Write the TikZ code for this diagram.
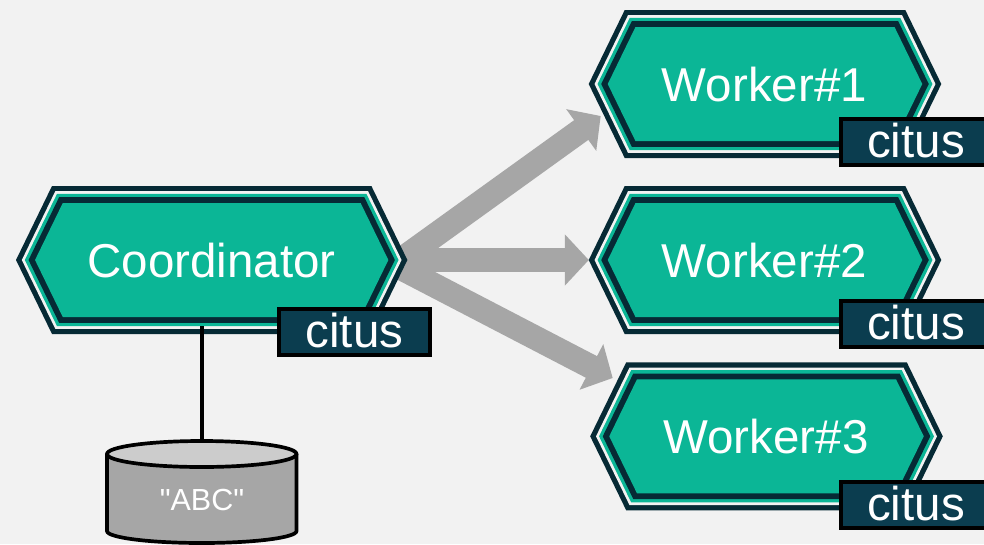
\documentclass[tikz,border=0pt]{standalone}
\usepackage{fontspec}
\setmainfont{Liberation Sans}
\newfontfamily\straightquotes{Liberation Sans}
\usetikzlibrary{arrows.meta}
\definecolor{pagebg}{HTML}{F2F2F2}
\definecolor{hexdark}{HTML}{062A35}
\definecolor{hexteal}{HTML}{0BB696}
\definecolor{hexpale}{HTML}{F2F2F2}
\definecolor{tagfill}{HTML}{0B3D4F}
\definecolor{flowgrey}{HTML}{A6A6A6}
\definecolor{lidgrey}{HTML}{CCCCCC}
\pgfdeclarelayer{backdrop}
\pgfdeclarelayer{flows}
\pgfsetlayers{backdrop,flows,main}
\newcommand{\hexlayers}[4]{%
  \foreach \inset/\shade in {0/hexdark,5.2/hexpale,7.9/hexteal,11.2/hexdark,17/hexteal}{%
    \pgfmathsetmacro{\hh}{#4-\inset}
    \pgfmathsetmacro{\hw}{#3-1.12*\inset}
    \pgfmathsetmacro{\hs}{36*\hh/#4}
    \fill[\shade] ({#1-\hw},#2) -- ({#1-\hw+\hs},{#2-\hh}) -- ({#1+\hw-\hs},{#2-\hh})
      -- ({#1+\hw},#2) -- ({#1+\hw-\hs},{#2+\hh}) -- ({#1-\hw+\hs},{#2+\hh}) -- cycle;
  }%
}
\tikzset{
  hexlabel/.style={text=white,font=\fontsize{47.5}{47.5}\selectfont,inner sep=0pt,
    text height=35pt,text depth=0pt,minimum height=148pt},
  tagbox/.style={draw=black,line width=4pt,fill=tagfill,text=white,
    font=\fontsize{47.5}{47.5}\selectfont,inner sep=0pt,minimum width=151pt,minimum height=46pt,
    text height=31pt,text depth=0pt},
  flow/.style={draw=flowgrey,line width=24.3pt,
    -{Triangle[length=24pt,width=50pt]}},
  cable/.style={draw=black,line width=3.7pt},
  dbline/.style={draw=black,line width=3.7pt}
}
\begin{document}
\begin{tikzpicture}[x=1pt,y=-1pt]
\begin{pgfonlayer}{backdrop}
  \fill[pagebg] (0,0) rectangle (984,544);
\end{pgfonlayer}
\clip (0,0) rectangle (984,544);

\hexlayers{211.7}{260}{195.7}{74}
\node[hexlabel,minimum width=390pt] (coordinator) at (211.5,260) {Coordinator};
\hexlayers{765}{84}{176.3}{74}
\node[hexlabel,minimum width=352pt] (worker1) at (764.5,84) {Worker\#1};
\hexlayers{765}{260}{176.3}{74}
\node[hexlabel,minimum width=352pt] (worker2) at (764.5,260) {Worker\#2};
\hexlayers{766.5}{436.3}{176.3}{74}
\node[hexlabel,minimum width=352pt] (worker3) at (766,436) {Worker\#3};

\coordinate (tip1) at (600.7,116);
\coordinate (tip3) at (612.7,378);
\begin{pgfonlayer}{flows}
  \draw[flow] ([xshift=-6pt]coordinator.east) -- (tip1);
  \draw[flow] ([xshift=-6pt]coordinator.east) -- ([xshift=0.5pt]worker2.west);
  \draw[flow] ([xshift=-21pt]coordinator.east) -- (tip3);
\end{pgfonlayer}

\node[tagbox] (tag0) at (354.5,331.5) {citus};
\node[tagbox] (tag1) at (916,142.2) {citus};
\node[tagbox] (tag2) at (916,323.8) {citus};
\node[tagbox] (tag3) at (916,504.5) {citus};

% database
\fill[flowgrey] (107,454) -- (107,531) arc[x radius=94.75,y radius=-12,start angle=180,end angle=360]
  -- (296.5,454) -- cycle;
\draw[dbline] (107,454) -- (107,531) arc[x radius=94.75,y radius=-12,start angle=180,end angle=360]
  -- (296.5,454);
\draw[dbline,fill=lidgrey] (201.75,454) ellipse[x radius=94.75,y radius=13];
\node[text=white,font=\straightquotes\fontsize{30.5}{30.5}\selectfont,inner sep=0pt] (db) at (202,500) {"ABC"};
\coordinate (dbtop) at (201.75,441);
\coordinate (hexfoot) at (201.75,326);
\draw[cable] (hexfoot) -- (dbtop);
\end{tikzpicture}
\end{document}
